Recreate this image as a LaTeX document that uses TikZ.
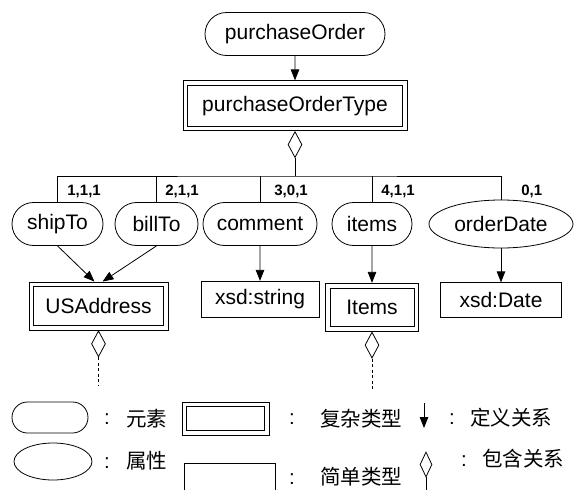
\documentclass[tikz,border=0pt]{standalone}
\usepackage{fontspec}
\setmainfont{Liberation Sans}
\newfontfamily\cjk{Noto Sans CJK SC}
\usepackage{tikz}
\usetikzlibrary{arrows.meta, positioning, shapes.misc, shapes.geometric}

\begin{document}
\begin{tikzpicture}[x=1pt, y=-1pt, line width=0.8pt,
  >={Triangle[length=11pt,width=8.5pt]},
  every node/.style={font=\fontsize{21}{25}\selectfont, inner sep=0pt},
  elem node/.style={rounded rectangle, draw, minimum height=43pt},
  attr node/.style={ellipse, draw, minimum height=48pt},
  complex node/.style={draw},
  simple node/.style={draw},
  has node/.style={diamond, draw, minimum width=14pt, minimum height=26pt},
  num/.style={font=\fontsize{15}{18}\selectfont\bfseries, anchor=base west},
  key/.style={font=\cjk\fontsize{20.5}{24}\selectfont, anchor=west},
  colon/.style={font=\fontsize{20.5}{24}\selectfont}]

  \clip (0,0) rectangle (574,490);

  % root element and its type
  \node[elem node, minimum width=180pt] (po) at (295,34) {purchaseOrder};
  \node[complex node, minimum width=224pt, minimum height=50pt, below=24.5pt of po] (pot) {purchaseOrderType};
  \node[has node, below=0pt of pot] (pothas) {};
  \coordinate (fork) at (295,176);

  % child elements
  \node[elem node, minimum width=91pt] (ship) at (57.5,224) {shipTo};
  \node[elem node, minimum width=83pt] (bill) at (156.5,224) {billTo};
  \node[elem node, minimum width=114pt] (cmt) at (260,224) {comment};
  \node[elem node, minimum width=80pt] (itm) at (372,224) {items};
  \node[attr node, minimum width=144pt] (odate) at (501,224) {orderDate};

  % their types
  \node[complex node, minimum width=139pt, minimum height=48pt] (usa) at (98.5,306) {USAddress};
  \node[simple node, minimum width=118pt, minimum height=36pt, below=35pt of cmt] (str) {xsd:string};
  \node[complex node, minimum width=93pt, minimum height=48pt, below=37pt of itm] (itype) {Items};
  \node[simple node, minimum width=121pt, minimum height=35pt, below=34pt of odate] (date) {xsd:Date};

  \node[has node, below=0pt of usa] (usahas) {};
  \node[has node, below=0pt of itype] (itmhas) {};
  \coordinate[below=29pt of usahas] (usaend);
  \coordinate[below=33pt of itmhas] (itmend);

  % content tree
  \draw (pothas) -- (fork);
  \draw (ship.north) |- (fork) -| (odate.north);
  \foreach \n in {bill, cmt, itm}
    \draw (\n.north) -- (\n.north |- fork);

  \node[num] (n1) at (67,195) {1,1,1};
  \node[num] (n2) at (165,195) {2,1,1};
  \node[num] (n3) at (274,195) {3,0,1};
  \node[num] (n4) at (381,195) {4,1,1};
  \node[num] (n5) at (521,195) {0,1};

  \path[->]
    (po) edge (pot)
    (ship.south) edge ([xshift=-4pt]usa.north)
    (bill.south) edge ([xshift=4pt]usa.north)
    (cmt) edge (str)
    (itm) edge (itype)
    (odate) edge (date);

  \draw[dash pattern=on 3pt off 2.5pt] (usahas) -- (usaend);
  \draw[dash pattern=on 3pt off 2.5pt] (itmhas) -- (itmend);

  % legend
  \node[elem node, minimum width=76pt, minimum height=31pt] (keyelem) at (50,417.5) {};
  \node[attr node, minimum width=78pt, minimum height=37pt] (keyattr) at (53,461.5) {};
  \node[complex node, minimum width=87pt, minimum height=33pt] (keycplx) at (225.5,418.5) {};
  \node[simple node, minimum width=91pt, minimum height=40pt] (keysimp) at (229.5,483) {};
  \coordinate (keydef) at (424,403);
  \coordinate (keydefend) at (424,428);
  \draw[->] (keydef) -- (keydefend);
  \node[has node, minimum width=12pt, minimum height=25pt] (keyhas) at (426,464.5) {};
  \coordinate (keyhasend) at (426,495);
  \draw (keyhas) -- (keyhasend);

  % inner frame of the complex types
  \foreach \n in {pot, usa, itype, keycplx}
    \draw ([shift={(5pt,-5pt)}]\n.north west) rectangle ([shift={(-5pt,5pt)}]\n.south east);

  \node[colon] (c1) at (107,419) {:};
  \node[key] (k1) at (126,419) {元素};
  \node[colon] (c2) at (107,463) {:};
  \node[key] (k2) at (126,461) {属性};
  \node[colon] (c3) at (292,419) {:};
  \node[key] (k3) at (320,419) {复杂类型};
  \node[colon] (c4) at (292,479) {:};
  \node[key] (k4) at (320,477) {简单类型};
  \node[colon] (c5) at (452,419) {:};
  \node[key] (k5) at (470,418) {定义关系};
  \node[colon] (c6) at (464,461) {:};
  \node[key] (k6) at (482,459) {包含关系};
\end{tikzpicture}
\end{document}
